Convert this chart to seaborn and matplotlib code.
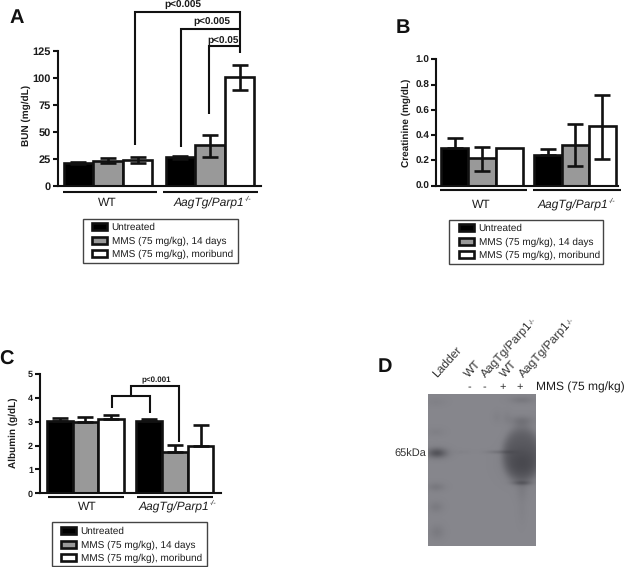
import numpy as np
import pandas as pd
import seaborn as sns
import matplotlib
matplotlib.use("Agg")
import matplotlib.pyplot as plt
from matplotlib.colors import LinearSegmentedColormap
from matplotlib.patches import Rectangle

sns.set_style("white")
plt.rcParams['font.family'] = ['Liberation Sans', 'DejaVu Sans']
plt.rcParams['text.hinting'] = 'no_hinting'
plt.rcParams['text.hinting_factor'] = 1

W, H = 626, 567
groups = ["WT", "AagTg/Parp1"]
treatments = ["Untreated", "MMS (75 mg/kg), 14 days", "MMS (75 mg/kg), moribund"]
colors = ["#000000", "#999999", "#ffffff"]

bun = [[21, 23.5, 24], [26.5, 38, 100.5]]
bun_lo = [[20, 21.5, 21.5], [25, 27, 88.5]]
bun_hi = [[22, 25.5, 26.5], [28, 47.5, 112]]
crea = [[0.30, 0.22, 0.30], [0.24, 0.32, 0.47]]
crea_lo = [[0.30, 0.12, 0.30], [0.24, 0.155, 0.215]]
crea_hi = [[0.38, 0.31, 0.30], [0.29, 0.485, 0.715]]
alb = [[3.05, 2.97, 3.13], [3.02, 1.72, 2.0]]
alb_lo = [[3.05, 2.97, 3.13], [3.02, 1.72, 2.0]]
alb_hi = [[3.17, 3.2, 3.27], [3.1, 2.03, 2.85]]

fig = plt.figure(figsize=(W / 100, H / 100), dpi=100)
INK = "#1c1c1c"
EDGE = "#111111"


def rect(x0, y0, x1, y1):
    return [x0 / W, 1 - y1 / H, (x1 - x0) / W, (y1 - y0) / H]


def panel(box, xlim, vals, lo, hi, ymax, ticks, fmt, width, legend_xy, tick_fs):
    ax = fig.add_axes(rect(*box))
    ax.patch.set_alpha(0)
    df = pd.DataFrame({
        "group": np.repeat(groups, 3),
        "treatment": treatments * 2,
        "value": np.ravel(vals),
    })
    sns.barplot(data=df, x="group", y="value", hue="treatment", hue_order=treatments,
                order=groups, palette=colors, saturation=1, width=width, gap=0,
                edgecolor=EDGE, linewidth=1.9, errorbar=None, ax=ax)
    for t, cont in enumerate(list(ax.containers)):
        for g, bar in enumerate(cont):
            xc = bar.get_x() + bar.get_width() / 2
            v = vals[g][t]
            if hi[g][t] > v or lo[g][t] < v:
                ax.errorbar(xc, v, yerr=[[v - lo[g][t]], [hi[g][t] - v]], color=EDGE,
                            elinewidth=1.9, capsize=6, capthick=1.9, zorder=5)
    ax.set_xlim(*xlim)
    ax.set_ylim(0, ymax)
    ax.set_yticks(ticks)
    ax.set_yticklabels([fmt.format(t) for t in ticks], fontsize=tick_fs, fontweight="bold", color=INK)
    ax.set_xticks([])
    ax.set_xlabel("")
    ax.set_ylabel("")
    sns.despine(ax=ax)
    for s in ("left", "bottom"):
        ax.spines[s].set_linewidth(1.5)
        ax.spines[s].set_color(EDGE)
    ax.tick_params(axis="y", left=True, width=1.5, length=3.5, color=EDGE, pad=1.5)
    handles, labels = ax.get_legend_handles_labels()
    leg = ax.legend(handles, labels, loc="upper left",
                    bbox_to_anchor=(legend_xy[0] / W, 1 - legend_xy[1] / H),
                    bbox_transform=fig.transFigure, fontsize=7.1, frameon=False,
                    borderaxespad=0, borderpad=0,
                    handlelength=1.5, handleheight=0.75, handletextpad=0.5, labelspacing=0.42)
    for t in leg.get_texts():
        t.set_color(INK)
    return ax


panel((58, 51, 261, 186), (-0.49, 1.5), bun, bun_lo, bun_hi, 125, [0, 25, 50, 75, 100, 125], "{:d}",
      0.87, (92, 223), 8)
panel((436, 59.3, 618, 185.7), (-0.495, 1.46), crea, crea_lo, crea_hi, 1.0, [0, .2, .4, .6, .8, 1.0], "{:.1f}",
      0.88, (459, 224), 7.5)
panel((40, 374, 221, 493.3), (-0.508, 1.514), alb, alb_lo, alb_hi, 5, [0, 1, 2, 3, 4, 5], "{:d}",
      0.86, (61, 527), 6.5)

# overlay in pixel coordinates for annotations
ov = fig.add_axes([0, 0, 1, 1], zorder=10)
ov.set_xlim(0, W)
ov.set_ylim(H, 0)
ov.axis("off")


def line(xs, ys, lw=1.5, c=EDGE):
    ov.plot(xs, ys, color=c, lw=lw, solid_capstyle="butt", solid_joinstyle="miter", clip_on=False)


def txt(x, y, s, **kw):
    kw.setdefault("ha", "center")
    kw.setdefault("va", "center")
    kw.setdefault("color", INK)
    return ov.text(x, y, s, **kw)


def genotype(xc, y, fs):
    t = txt(xc - 4, y, "AagTg/Parp1", fontsize=fs, style="italic")
    ov.annotate("-/-", xy=(1, 0.85), xycoords=t, fontsize=fs * 0.6, style="italic", color=INK,
                ha="left", va="center")


for x0, y0, x1, y1 in [(83, 219, 238, 263), (449, 220, 603, 264), (52, 522, 207, 566)]:
    ov.add_patch(Rectangle((x0, y0), x1 - x0, y1 - y0, fill=False, ec="#444444", lw=1.0))

for x, y, s in [(17, 18, "A"), (403, 28, "B"), (6, 360, "C"), (385, 367, "D")]:
    txt(x, y, s, fontsize=14.5, fontweight="bold", color=EDGE)

# group rules and labels
for x0, x1, y in [(63, 157, 192), (163, 258, 192), (440, 527, 190), (533, 621, 190),
                  (48, 124, 497), (137, 213, 497)]:
    line([x0, x1], [y, y])
for x, y in [(107, 203), (481, 205), (87, 507)]:
    txt(x, y, "WT", fontsize=8.5)
for x, y in [(213, 203), (577, 205), (178, 507)]:
    genotype(x, y, 8.5)

# y labels
txt(26, 115, "BUN (mg/dL)", rotation=90, fontsize=7.2, fontweight="bold")
txt(406, 123, "Creatinine (mg/dL)", rotation=90, fontsize=7.2, fontweight="bold")
txt(13, 433, "Albumin (g/dL)", rotation=90, fontsize=7, fontweight="bold")

# significance brackets, panel A
line([134.5, 134.5, 240, 240], [145, 12, 12, 53])
line([180.5, 180.5, 240], [147, 29, 29])
line([209, 209, 240], [114, 46, 46])
txt(183, 5, "p<0.005", fontsize=7, fontweight="bold")
txt(212, 22, "p<0.005", fontsize=7, fontweight="bold")
txt(223, 41, "p<0.05", fontsize=7, fontweight="bold")
# panel C
line([112, 112, 150, 150], [408, 396, 396, 413])
line([131, 131, 179, 179], [396, 386, 386, 442])
txt(156, 380, "p<0.001", fontsize=6, fontweight="bold")

# panel D: gel picture, bands as x, y, x spread, y spread, darkness, edge sharpness
gel_x = [437, 436, 436, 436, 436, 437, 522, 522, 522, 522, 522, 522, 500, 497, 507, 462, 522]
gel_y = [453, 402, 432, 487, 507, 532, 400, 421, 455, 463, 483, 491, 452, 417, 417, 452, 510]
gel_sx = [7, 7, 6, 6, 5, 5, 8, 8, 14, 12, 7, 4, 9, 3, 3, 6, 3]
gel_sy = [3.5, 3, 3, 3, 4, 5, 2.5, 3.5, 20, 11, 1.5, 7, 1.3, 4, 4, 1.5, 10]
gel_a = [.45, .04, .05, .12, .10, .10, .12, .17, .38, .18, .22, .07, .16, .04, .04, .03, .03]
gel_p = [1, 1, 1, 1, 1, 1, 1, 1, 3, 1, 1, 1, 1, 1, 1, 1, 1]
ax_d = fig.add_axes(rect(428, 394, 536, 546))
xx, yy = np.meshgrid(np.arange(428.5, 536), np.arange(394.5, 546))
img = np.zeros_like(xx)
for x, y, sx, sy, a, p in zip(gel_x, gel_y, gel_sx, gel_sy, gel_a, gel_p):
    img += a * np.exp(-(((xx - x) / sx) ** 2 / 2 + ((yy - y) / sy) ** 2 / 2) ** p)
cmap = LinearSegmentedColormap.from_list("gel", ["#86868c", "#45454b"])
ax_d.imshow(np.clip(img, 0, 0.6), cmap=cmap, vmin=0, vmax=0.6, aspect="auto",
            interpolation="bilinear", extent=(428, 536, 546, 394))
ax_d.axis("off")

txt(426, 454, "65kDa", ha="right", fontsize=7.8, color="#333333")
txt(536, 387, "MMS (75 mg/kg)", ha="left", fontsize=8.9)
for x, s in zip([469, 484, 503, 520], ["-", "-", "+", "+"]):
    txt(x, 387, s, fontsize=8, color="#333333")

renderer = fig.canvas.get_renderer()
ANG = 48
for x, s in zip([439, 471, 488, 507, 526], ["Ladder", "WT", "AagTg/Parp1", "WT", "AagTg/Parp1"]):
    t = ov.text(x, 380, s, ha="left", va="bottom", fontsize=8.8, color="#333333",
                rotation_mode="anchor")
    w = t.get_window_extent(renderer).width
    t.set_rotation(ANG)
    if s != "Ladder" and s != "WT":
        a = np.radians(ANG)
        ov.text(x + w * np.cos(a) - 3 * np.sin(a), 380 - w * np.sin(a) - 3 * np.cos(a), "-/-",
                rotation=ANG, rotation_mode="anchor", ha="left", va="bottom",
                fontsize=5, color="#333333")

fig.savefig("out.png", dpi=100, facecolor="white")
